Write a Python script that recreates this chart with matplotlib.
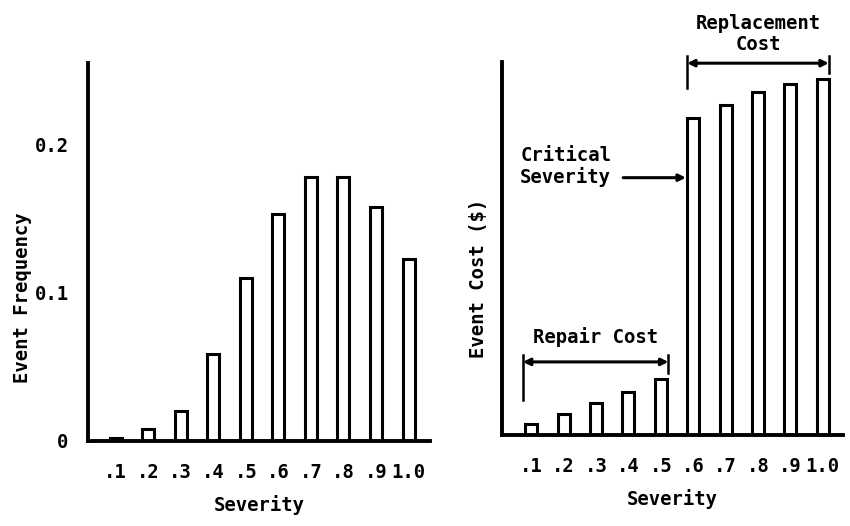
import matplotlib
matplotlib.use("Agg")
import matplotlib.pyplot as plt
import numpy as np

severity = [0.1, 0.2, 0.3, 0.4, 0.5, 0.6, 0.7, 0.8, 0.9, 1.0]
tick_labels = ['.1', '.2', '.3', '.4', '.5', '.6', '.7', '.8', '.9', '1.0']
frequency = [0.002, 0.008, 0.020, 0.059, 0.110, 0.153, 0.178, 0.178, 0.158, 0.123]
cost = [3.0, 5.6, 8.6, 11.5, 15.0, 85.0, 88.5, 92.0, 94.0, 95.5]
freq_ticks = [0, 0.1, 0.2]
freq_tick_labels = ['0', '0.1', '0.2']

FONT = dict(family='DejaVu Sans Mono', fontweight='bold', fontsize=13.6)
W = 0.037

fig = plt.figure(figsize=(8.5, 5.26), dpi=100)
ax1 = fig.add_axes([0.1035, 0.1616, 0.402, 0.7186])
ax2 = fig.add_axes([0.5906, 0.173, 0.401, 0.709])

for ax in (ax1, ax2):
    for s in ('top', 'right'):
        ax.spines[s].set_visible(False)
    for s in ('left', 'bottom'):
        ax.spines[s].set_linewidth(2.8)
    ax.set_xticks(severity)
    ax.set_xticklabels(tick_labels, **FONT)
    ax.tick_params(axis='both', length=0)
    ax.tick_params(axis='x', pad=16)

# Left panel
ax1.bar(severity, frequency, width=W, facecolor='white', edgecolor='black', linewidth=2.2)
ax1.set_xlim(0.015, 1.065)
ax1.set_ylim(0, 0.255)
ax1.set_yticks(freq_ticks)
ax1.set_yticklabels(freq_tick_labels, **FONT)
ax1.tick_params(axis='y', pad=14)
ax1.set_xlabel('Severity', labelpad=9, **FONT)
ax1.set_ylabel('Event Frequency', **FONT)
ax1.yaxis.set_label_coords(-0.165, 0.38)

# Right panel
ax2.bar(severity, cost, width=W, facecolor='white', edgecolor='black', linewidth=2.2)
ax2.set_xlim(0.010, 1.062)
ax2.set_ylim(0, 100)
ax2.set_yticks([])
ax2.set_xlabel('Severity', labelpad=9, **FONT)
ax2.set_ylabel('Event Cost ($)', **FONT)
ax2.yaxis.set_label_coords(-0.04, 0.42)

crit = 5
rep_l = severity[crit] - W / 2
rep_r = severity[-1] + W / 2
arrow_kw = dict(arrowstyle='<|-|>', color='black', lw=2.2, mutation_scale=10,
                shrinkA=0, shrinkB=0)
# Replacement cost bracket
ax2.annotate('', xy=(rep_l, 99.7), xytext=(rep_r, 99.7), arrowprops=arrow_kw,
             annotation_clip=False)
ax2.plot([rep_l, rep_l], [101.5, 93], color='black', lw=1.8, clip_on=False)
ax2.plot([rep_r, rep_r], [101.5, 97], color='black', lw=1.8, clip_on=False)
ax2.text((rep_l + rep_r) / 2, 107.5, 'Replacement\nCost', ha='center', va='center',
         linespacing=1.1, **FONT)

# Critical severity arrow
ax2.annotate('', xy=(rep_l - 0.004, 69), xytext=(0.384, 69),
             arrowprops=dict(arrowstyle='-|>', color='black', lw=2.2,
                             mutation_scale=10, shrinkA=0, shrinkB=0))
ax2.text(0.066, 72, 'Critical\nSeverity', ha='left', va='center', linespacing=1.1, **FONT)

# Repair cost bracket
r_l = severity[0] - W / 2 - 0.007
r_r = severity[crit - 1] + W / 2 + 0.005
ax2.annotate('', xy=(r_l, 19.6), xytext=(r_r, 19.6), arrowprops=arrow_kw)
ax2.plot([r_l, r_l], [21.5, 9.4], color='black', lw=1.8)
ax2.plot([r_r, r_r], [21.5, 16.5], color='black', lw=1.8)
ax2.text((r_l + r_r) / 2, 26.3, 'Repair Cost', ha='center', va='center', **FONT)

fig.savefig('out.png', dpi=100)
